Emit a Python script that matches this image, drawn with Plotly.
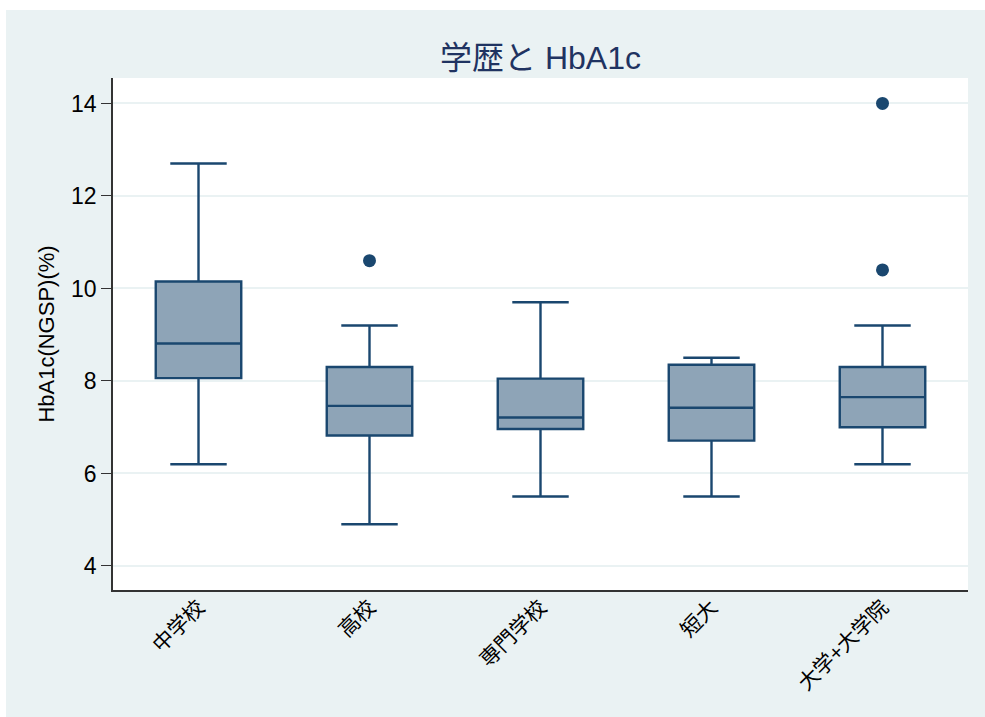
import plotly.graph_objects as go

# Education level categories and HbA1c (NGSP, %) box statistics
categories = ["中学校", "高校", "専門学校", "短大", "大学+大学院"]
q1_vals = [8.06, 6.82, 6.96, 6.71, 7.0]
median_vals = [8.81, 7.46, 7.21, 7.42, 7.65]
q3_vals = [10.15, 8.30, 8.05, 8.35, 8.30]
lower_whisker = [6.2, 4.9, 5.5, 5.5, 6.2]
upper_whisker = [12.7, 9.2, 9.7, 8.5, 9.2]

# Outlying observations
outlier_groups = ["高校", "大学+大学院", "大学+大学院"]
outlier_values = [10.6, 14.0, 10.4]

y_ticks = [4, 6, 8, 10, 12, 14]

navy = "#1a476f"
box_fill = "#8ea4b7"
bluish = "#eaf2f3"
font_family = "Liberation Sans, Arial, Noto Sans CJK JP, sans-serif"

fig = go.Figure()

fig.add_trace(go.Box(
    x=categories,
    q1=q1_vals,
    median=median_vals,
    q3=q3_vals,
    lowerfence=lower_whisker,
    upperfence=upper_whisker,
    fillcolor=box_fill,
    line=dict(color=navy, width=2.4),
    whiskerwidth=0.66,
    boxpoints=False,
    showlegend=False,
    hoverinfo="skip",
))

fig.add_trace(go.Scatter(
    x=outlier_groups,
    y=outlier_values,
    mode="markers",
    marker=dict(color=navy, size=13),
    showlegend=False,
    hoverinfo="skip",
))

# Plot-area geometry in pixels (used for the white frame strips)
W, H = 985, 717
ml, mr, mt, mb = 113, 17, 78, 127
pw, ph = W - ml - mr, H - mt - mb


def px_x(x):
    return (x - ml) / pw


def px_y(y):
    return (H - mb - y) / ph


frame_shapes = [
    dict(type="rect", xref="paper", yref="paper",
         x0=px_x(0), x1=px_x(6), y0=px_y(H), y1=px_y(0),
         fillcolor="white", line=dict(width=0), layer="below"),
    dict(type="rect", xref="paper", yref="paper",
         x0=px_x(0), x1=px_x(W), y0=px_y(10), y1=px_y(0),
         fillcolor="white", line=dict(width=0), layer="below"),
]

fig.update_layout(
    width=W,
    height=H,
    margin=dict(l=ml, r=mr, t=mt, b=mb, pad=0),
    paper_bgcolor=bluish,
    plot_bgcolor="white",
    font=dict(family=font_family, color="black"),
    title=dict(
        text="学歴と HbA1c",
        x=0.5,
        xref="paper",
        xanchor="center",
        y=1 - 58 / H,
        yref="container",
        yanchor="middle",
        font=dict(size=32, color="#1f3361", family=font_family),
    ),
    boxgap=0.5,
    boxgroupgap=0,
    shapes=frame_shapes,
)

fig.update_xaxes(
    type="category",
    categoryorder="array",
    categoryarray=categories,
    range=[-0.5, len(categories) - 0.5],
    tickangle=-45,
    tickfont=dict(size=21, color="black"),
    ticklabelstandoff=-5,
    showgrid=False,
    showline=True,
    linecolor="#333333",
    linewidth=1.5,
    ticks="",
    zeroline=False,
)

fig.update_yaxes(
    range=[3.48, 14.55],
    tickvals=y_ticks,
    ticktext=[str(v) for v in y_ticks],
    tickfont=dict(size=23, color="black"),
    ticks="outside",
    ticklen=10,
    tickwidth=1.3,
    tickcolor="#333333",
    showgrid=True,
    gridcolor=bluish,
    gridwidth=2,
    showline=True,
    linecolor="#333333",
    linewidth=1.5,
    zeroline=False,
    title=dict(text="HbA1c(NGSP)(%)", font=dict(size=22, color="black"), standoff=10),
)

fig.write_html("out.html")
